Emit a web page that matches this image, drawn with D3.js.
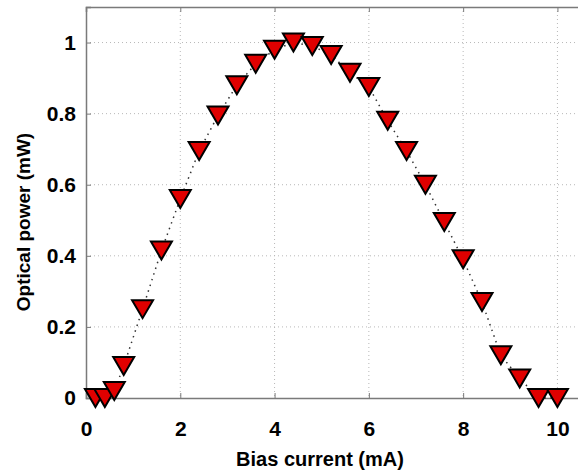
<!DOCTYPE html>
<html>
<head>
<meta charset="utf-8">
<script src="https://cdn.jsdelivr.net/npm/d3@7"></script>
<style>
  body { margin: 0; background: #fff; }
  svg { display: block; }
  text { font-family: "Liberation Sans", Arial, sans-serif; font-weight: bold; fill: #000; }
</style>
</head>
<body>
<div class="chart"></div>
<script>
// measured points: bias current (mA) vs optical power (mW)
var biasCurrent = [0.2, 0.4, 0.6, 0.8, 1.2, 1.6, 2.0, 2.4, 2.8, 3.2, 3.6, 4.0, 4.4, 4.8,
                   5.2, 5.6, 6.0, 6.4, 6.8, 7.2, 7.6, 8.0, 8.4, 8.8, 9.2, 9.6, 10.0];
var opticalPower = [0, 0, 0.02, 0.09, 0.25, 0.415, 0.56, 0.695, 0.795, 0.88, 0.94, 0.98, 1.0, 0.99,
                    0.965, 0.915, 0.875, 0.78, 0.695, 0.6, 0.495, 0.39, 0.27, 0.12, 0.055, 0, 0];
var xTicks = [0, 2, 4, 6, 8, 10];
var yTicks = [0, 0.2, 0.4, 0.6, 0.8, 1];

var width = 578, height = 470;
var plotL = 86, plotR = 581, plotT = 7, plotB = 398;

var x = d3.scaleLinear().domain([0, 10.5]).range([plotL, plotR]);
var y = d3.scaleLinear().domain([0, 1.1]).range([plotB, plotT]);

var svg = d3.select(".chart").append("svg")
    .attr("width", width)
    .attr("height", height);

/* grid */
var grid = svg.append("g").attr("class", "grid");
grid.selectAll(".gx").data(xTicks.filter(function(d) { return d > 0; })).enter()
    .append("line")
        .attr("x1", function(d) { return x(d); })
        .attr("x2", function(d) { return x(d); })
        .attr("y1", plotT).attr("y2", plotB)
        .attr("stroke", "#b8b8b8").attr("stroke-width", 1)
        .attr("stroke-dasharray", "1,3");
grid.selectAll(".gy").data(yTicks.filter(function(d) { return d > 0; })).enter()
    .append("line")
        .attr("x1", plotL).attr("x2", plotR)
        .attr("y1", function(d) { return y(d); })
        .attr("y2", function(d) { return y(d); })
        .attr("stroke", "#b8b8b8").attr("stroke-width", 1)
        .attr("stroke-dasharray", "1,3");

/* axes */
var xAxis = d3.axisBottom(x).tickValues(xTicks).tickSize(-5).tickPadding(23)
    .tickFormat(d3.format("d"));
var yAxis = d3.axisLeft(y).tickValues(yTicks).tickSize(-5).tickPadding(10)
    .tickFormat(function(d) { return d === 0 || d === 1 ? d3.format("d")(d) : d3.format(".1f")(d); });
var xTop = d3.axisTop(x).tickValues(xTicks).tickSize(-5).tickFormat("");

function styleAxis(g) {
    g.attr("font-family", null);
    g.select(".domain").attr("stroke", "#7a7a7a").attr("stroke-width", 1.5);
    g.selectAll(".tick line").attr("stroke", "#7a7a7a").attr("stroke-width", 1);
    g.selectAll(".tick text").attr("font-size", 21);
}

svg.append("g").attr("transform", "translate(0," + plotB + ")").call(xAxis).call(styleAxis);
svg.append("g").attr("transform", "translate(" + plotL + ",0)").call(yAxis).call(styleAxis);
svg.append("g").attr("transform", "translate(0," + plotT + ")").call(xTop).call(styleAxis);

/* dotted connecting line */
var pts = biasCurrent.map(function(d, i) { return [d, opticalPower[i]]; });
var line = d3.line()
    .x(function(d) { return x(d[0]); })
    .y(function(d) { return y(d[1]); });
svg.append("path")
    .attr("d", line(pts))
    .attr("fill", "none")
    .attr("stroke", "#333")
    .attr("stroke-width", 1.5)
    .attr("stroke-dasharray", "1.5,4.5");

/* down-triangle markers */
var tri = "M -10.5 -9 L 10.5 -9 L 0 9 Z";
svg.append("g").selectAll(".marker").data(pts).enter()
    .append("path")
        .attr("class", "marker")
        .attr("d", tri)
        .attr("fill", "#e00000")
        .attr("stroke", "#000")
        .attr("stroke-width", 2)
        .attr("stroke-linejoin", "miter")
        .attr("transform", function(d) { return "translate(" + x(d[0]) + "," + y(d[1]) + ")"; });

/* titles */
svg.append("text")
    .attr("x", 320).attr("y", 466)
    .attr("text-anchor", "middle")
    .attr("font-size", 20)
    .text("Bias current (mA)");
svg.append("text")
    .attr("transform", "translate(30,222) rotate(-90)")
    .attr("text-anchor", "middle")
    .attr("font-size", 19)
    .text("Optical power (mW)");
</script>
</body>
</html>
